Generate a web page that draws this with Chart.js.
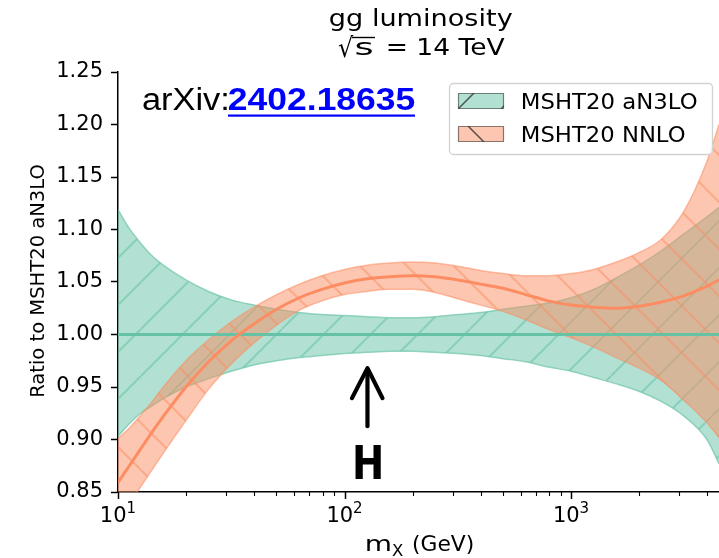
<!DOCTYPE html>
<html><head><meta charset="utf-8">
<script src="https://cdn.jsdelivr.net/npm/chart.js@4"></script>
<style>html,body{margin:0;padding:0;background:#fff;}canvas{display:block;}</style>
</head><body>
<canvas id="c" width="719" height="558"></canvas>
<script>
// ---- data ----
const massGeV      = [10,11.22,12.59,14.13,15.85,19.95,25.12,31.62,39.81,50.12,63.10,79.43,100,125.9,158.5,199.5,251.2,316.2,398.1,501.2,631.0,794.3,1000,1259,1585,1995,2512,3162,3981,4500];
const an3loCentral = [1.000,1.000,1.000,1.000,1.000,1.000,1.000,1.000,1.000,1.000,1.000,1.000,1.000,1.000,1.000,1.000,1.000,1.000,1.000,1.000,1.000,1.000,1.000,1.000,1.000,1.000,1.000,1.000,1.000,1.000];
const an3loUpper   = [1.119,1.101,1.087,1.075,1.066,1.052,1.041,1.033,1.028,1.024,1.021,1.019,1.018,1.017,1.016,1.016,1.017,1.019,1.021,1.024,1.027,1.030,1.035,1.043,1.054,1.066,1.080,1.096,1.112,1.121];
const an3loLower   = [0.903,0.915,0.925,0.932,0.939,0.950,0.958,0.965,0.971,0.975,0.978,0.980,0.982,0.983,0.984,0.984,0.983,0.982,0.980,0.977,0.974,0.969,0.965,0.959,0.953,0.946,0.936,0.922,0.900,0.877];
const nnloCentral  = [0.859,0.875,0.891,0.907,0.922,0.950,0.974,0.994,1.010,1.024,1.035,1.043,1.049,1.053,1.055,1.056,1.055,1.052,1.048,1.044,1.038,1.032,1.028,1.026,1.025,1.027,1.031,1.037,1.046,1.052];
const nnloUpper    = [0.901,0.911,0.923,0.936,0.950,0.975,0.995,1.012,1.026,1.038,1.048,1.056,1.062,1.066,1.068,1.069,1.068,1.065,1.061,1.058,1.056,1.056,1.058,1.062,1.069,1.078,1.091,1.118,1.165,1.200];
const nnloLower    = [0.824,0.839,0.855,0.871,0.887,0.918,0.948,0.972,0.992,1.009,1.023,1.032,1.038,1.041,1.043,1.043,1.040,1.034,1.028,1.022,1.014,1.005,0.997,0.988,0.978,0.968,0.956,0.937,0.916,0.902];
const seriesNames  = ['MSHT20 aN3LO','MSHT20 NNLO'];
const yTicks       = [0.85,0.90,0.95,1.00,1.05,1.10,1.15,1.20,1.25];
const xMajorTicks  = [10,100,1000];
const xTickExps    = ['1','2','3'];
const xMinorTicks  = [20,30,40,50,60,70,80,90,200,300,400,500,600,700,800,900,2000,3000,4000];
const higgsMass    = 125;
const arrowTip     = 0.968, arrowTail = 0.9127, hLabelY = 0.879;

const canvas = document.getElementById('c');
const ctx0 = canvas.getContext('2d');
function hatch(fill, line, dir){
  const s = 47, c = document.createElement('canvas'); c.width = s; c.height = s;
  const g = c.getContext('2d');
  g.fillStyle = fill; g.fillRect(0,0,s,s);
  g.strokeStyle = line; g.lineWidth = 2; g.beginPath();
  for (let k=-1;k<=1;k++){
    if (dir==='/'){ g.moveTo(k*s, s); g.lineTo(k*s+s, 0); }
    else { g.moveTo(k*s, 0); g.lineTo(k*s+s, s); }
  }
  g.stroke();
  return ctx0.createPattern(c,'repeat');
}
const greenPat  = hatch('rgba(102,194,165,0.5)','rgba(102,194,165,0.55)','/');
const orangePat = hatch('rgba(252,141,98,0.5)','rgba(252,141,98,0.5)','\\');
const pts = arr => massGeV.map((m,i)=>({x:m, y:arr[i]}));
const common = {pointRadius:0, cubicInterpolationMode:'monotone'};

function fitText(ctx, text, left, base, font, width){
  ctx.font = font;
  const m = ctx.measureText(text);
  const ink = m.actualBoundingBoxLeft + m.actualBoundingBoxRight;
  const sx = width ? width/ink : 1;
  ctx.save(); ctx.translate(left + m.actualBoundingBoxLeft*sx, base); ctx.scale(sx,1);
  ctx.textAlign='left'; ctx.textBaseline='alphabetic'; ctx.fillText(text,0,0); ctx.restore();
  return ink*sx;
}

const deco = {
  id:'deco',
  afterDraw(chart){
    const {ctx, scales:{x,y}, chartArea:ca} = chart;
    ctx.save();
    ctx.strokeStyle='#000'; ctx.fillStyle='#000';
    xMajorTicks.forEach(v=>{ const p=Math.round(x.getPixelForValue(v))+0.5; ctx.lineWidth=1.5; ctx.beginPath(); ctx.moveTo(p,ca.bottom); ctx.lineTo(p,ca.bottom+7); ctx.stroke(); });
    xMinorTicks.forEach(v=>{ const p=Math.round(x.getPixelForValue(v))+0.5; ctx.lineWidth=1.1; ctx.beginPath(); ctx.moveTo(p,ca.bottom); ctx.lineTo(p,ca.bottom+4); ctx.stroke(); });
    xMajorTicks.forEach((v,i)=>{
      const p = x.getPixelForValue(v);
      ctx.font='21px "DejaVu Sans"'; const w1=ctx.measureText('10').width;
      ctx.font='15px "DejaVu Sans"'; const w2=ctx.measureText(xTickExps[i]).width;
      const l = p-(w1+w2)/2;
      ctx.textAlign='left'; ctx.textBaseline='alphabetic';
      ctx.font='21px "DejaVu Sans"'; ctx.fillText('10', l, 522);
      ctx.font='15px "DejaVu Sans"'; ctx.fillText(xTickExps[i], l+w1, 513);
    });
    // x axis label
    fitText(ctx,'m',366,551,'21px "DejaVu Sans"',24);
    fitText(ctx,'X',392,556,'15px "DejaVu Sans"',11);
    fitText(ctx,'(GeV)',413,551,'21px "DejaVu Sans"',60);
    // y axis label
    ctx.save(); ctx.translate(44, 281); ctx.rotate(-Math.PI/2);
    ctx.font='20px "DejaVu Sans"';
    const yl='Ratio to MSHT20 aN3LO'; const m=ctx.measureText(yl);
    const ink=m.actualBoundingBoxLeft+m.actualBoundingBoxRight; const sx=232/ink;
    ctx.scale(sx,1); ctx.textAlign='center'; ctx.fillText(yl,0,0); ctx.restore();
    // title
    fitText(ctx,'gg luminosity',330,26,'23px "DejaVu Sans"',182);
    fitText(ctx,'\u221A',338,57,'27px "DejaVu Sans"',16);
    const sw = fitText(ctx,'s',356,55,'23px "DejaVu Sans"',16);
    ctx.lineWidth=1.4; ctx.beginPath(); ctx.moveTo(352,37.5); ctx.lineTo(356+sw+3,37.5); ctx.stroke();
    fitText(ctx,'= 14 TeV',388,55,'23px "DejaVu Sans"',117);
    // arXiv
    fitText(ctx,'arXiv:',143,110,'31px "Liberation Sans"',84);
    ctx.fillStyle='#0000ff';
    fitText(ctx,'2402.18635',229,110,'bold 31px "Liberation Sans"',186);
    ctx.fillRect(228,114.5,187,2.2);
    ctx.fillStyle='#000';
    // Higgs arrow
    const hx = x.getPixelForValue(higgsMass);
    const tipY = y.getPixelForValue(arrowTip), tailY = y.getPixelForValue(arrowTail);
    ctx.lineWidth=4.2; ctx.lineCap='round'; ctx.lineJoin='round';
    ctx.beginPath(); ctx.moveTo(hx+1,tailY); ctx.lineTo(hx+1,tipY+2); ctx.stroke();
    ctx.beginPath(); ctx.moveTo(hx-14.5,tipY+30); ctx.lineTo(hx+1,tipY); ctx.lineTo(hx+16,tipY+30); ctx.stroke();
    const hy = y.getPixelForValue(hLabelY);
    fitText(ctx,'H',hx-11,hy+17,'bold 46px "DejaVu Sans"',26);
    // legend
    ctx.lineCap='butt';
    ctx.fillStyle='rgba(255,255,255,0.8)'; ctx.strokeStyle='#d2d2d2'; ctx.lineWidth=1.3;
    ctx.beginPath(); ctx.roundRect(449.5,83.5,263,71,4); ctx.fill(); ctx.stroke();
    const patches=[{y:93,fill:'rgba(102,194,165,0.5)'},{y:126,fill:'rgba(252,141,98,0.5)'}];
    patches.forEach((p,i)=>{
      ctx.fillStyle=p.fill; ctx.fillRect(458,p.y,46,16);
      ctx.save(); ctx.beginPath(); ctx.rect(458,p.y,46,16); ctx.clip();
      ctx.strokeStyle='rgba(40,40,40,0.75)'; ctx.lineWidth=1.5; ctx.beginPath();
      if(i===0){ ctx.moveTo(458,p.y+16); ctx.lineTo(474,p.y); ctx.moveTo(501,p.y+16); ctx.lineTo(517,p.y); }
      else { ctx.moveTo(468,p.y); ctx.lineTo(484,p.y+16); }
      ctx.stroke(); ctx.restore();
      ctx.strokeStyle='rgba(60,60,60,0.6)'; ctx.lineWidth=1.2; ctx.strokeRect(458.5,p.y+0.5,45,15);
      ctx.fillStyle='#000';
      fitText(ctx,seriesNames[i],523,p.y+16,'21px "DejaVu Sans"', i===0?174:162);
    });
    ctx.restore();
  }
};

new Chart(canvas, {
  type:'line',
  data:{datasets:[
    {label:'nnloC', data:pts(nnloCentral), borderColor:'#fc8d62', borderWidth:3, fill:false, ...common},
    {label:'an3loC', data:pts(an3loCentral), borderColor:'#66c2a5', borderWidth:3, fill:false, ...common},
    {label:'nnloU', data:pts(nnloUpper), borderColor:'rgba(252,141,98,0.55)', borderWidth:1.5, fill:'+1', backgroundColor:orangePat, ...common},
    {label:'nnloL', data:pts(nnloLower), borderColor:'rgba(252,141,98,0.55)', borderWidth:1.5, fill:false, ...common},
    {label:'an3loU', data:pts(an3loUpper), borderColor:'rgba(102,194,165,0.65)', borderWidth:1.5, fill:'+1', backgroundColor:greenPat, ...common},
    {label:'an3loL', data:pts(an3loLower), borderColor:'rgba(102,194,165,0.65)', borderWidth:1.5, fill:false, ...common}
  ]},
  options:{
    responsive:false, animation:false, devicePixelRatio:1,
    layout:{padding:{top:72,right:0,left:0,bottom:0}},
    plugins:{legend:{display:false}, title:{display:false}, tooltip:{enabled:false}},
    scales:{
      x:{type:'logarithmic', min:10, max:4500,
         grid:{display:false}, border:{display:true,color:'#000',width:1.5},
         ticks:{display:false}, afterFit(s){ s.height=66; }},
      y:{type:'linear', min:0.85, max:1.25,
         afterBuildTicks(s){ s.ticks = yTicks.map(v=>({value:v})); },
         ticks:{callback:v=>v.toFixed(2), font:{family:'DejaVu Sans', size:21}, color:'#000', padding:8},
         grid:{drawOnChartArea:false, tickLength:7, tickColor:'#000', tickWidth:1.5},
         border:{display:true, color:'#000', width:1.5},
         afterFit(s){ s.width=118; }}
    }
  },
  plugins:[deco]
});
</script>
</body></html>
